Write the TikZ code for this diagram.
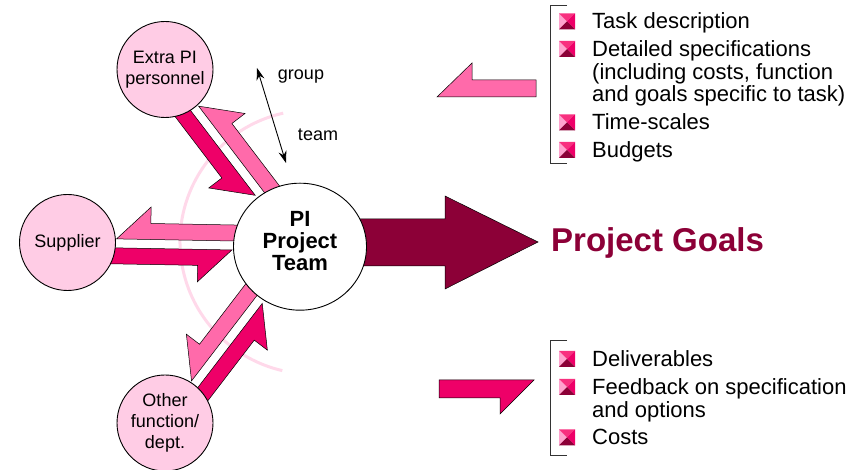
\documentclass[tikz,border=0pt]{standalone}
\usepackage{fontspec}
\setmainfont{Liberation Sans}
\usetikzlibrary{shapes, positioning, calc, backgrounds, arrows.meta}

\definecolor{satpink}{HTML}{FFCCE5}
\definecolor{lightband}{HTML}{FF6AAA}
\definecolor{darkband}{HTML}{EE0068}
\definecolor{maroon}{HTML}{8C0037}
\definecolor{halo}{HTML}{FFD9EA}
\definecolor{bulpale}{HTML}{FFA3CE}
\definecolor{bultop}{HTML}{F8307F}

\tikzset{
  sat/.style={draw, circle, fill=satpink, line width=0.9pt, minimum size=96pt, inner sep=0pt, align=center, font=\fontsize{18}{21}\selectfont},
  band/.style={draw=black, line width=0.5pt, line join=miter},
  lab/.style={inner sep=0pt, font=\fontsize{18}{21}\selectfont},
  item/.style={anchor=north west, inner sep=0pt, align=left, font=\fontsize{22}{22.7}\selectfont},
  sqbul/.pic={
    \fill[bulpale] (-8,-8) -- (0,0) -- (-8,8) -- cycle;
    \fill[bultop] (-8,8) -- (0,0) -- (8,8) -- cycle;
    \fill[darkband] (8,8) -- (0,0) -- (8,-8) -- cycle;
    \fill[maroon] (8,-8) -- (0,0) -- (-8,-8) -- cycle;
  }
}

% two half arrows between a satellite #1 (radius #2) and the team
\newcommand{\twoway}[2]{%
  \path let \p1=($(C)-(#1)$) in \pgfextra{%
    \pgfmathsetmacro\bandang{atan2(\y1,\x1)}%
    \pgfmathsetmacro\banddist{veclen(\x1,\y1)}%
    \global\let\bandang\bandang \global\let\banddist\banddist};
  \begin{scope}[shift={(#1)}, rotate=\bandang]
    \filldraw[band, fill=lightband] ({#2+1.5},4.5) -- ({#2+35.5},37) -- ({#2+35.5},20.5)
      -- ({\banddist-40},20.5) -- ({\banddist-40},4.5) -- cycle;
    \filldraw[band, fill=darkband] ({#2-10},-4.5) -- ({\banddist-68},-4.5) -- ({\banddist-102},-37)
      -- ({\banddist-102},-20.5) -- ({#2-10},-20.5) -- cycle;
  \end{scope}}

\begin{document}
\begin{tikzpicture}[x=1pt, y=1pt]
\useasboundingbox (0,0) rectangle (861,470);

\node[draw, ellipse, fill=white, line width=0.9pt, minimum width=133pt, minimum height=127pt] (C) at (300,223.3) {};
\node[align=center, inner sep=0pt, font=\bfseries\fontsize{22}{22}\selectfont] (Ctxt) at ([yshift=6pt]C.center) {PI\\Project\\Team};

\node[sat] (E) at (165,400.5) {Extra PI\\personnel};
\node[sat] (S) at (67.5,227.5) {Supplier};
\node[sat] (O) at (165,47) {Other\\function/\\dept.};

\coordinate (gtip) at (538,228);
\node[anchor=base west, inner sep=0pt, text=maroon, font=\bfseries\fontsize{33}{36}\selectfont] (goals) at ([xshift=13pt, yshift=-10pt]gtip) {Project Goals};

\begin{scope}[on background layer]
\draw[halo, line width=3pt] ([shift={(12,4.7)}]C.center) ++(102.6:132) arc[start angle=102.6, end angle=257, radius=132];
\twoway{E}{48}
\twoway{S}{47.5}
\twoway{O}{48}
\filldraw[band, fill=maroon] ([yshift=27.7pt]C.center) -- (445,251) -- (445,274) -- (gtip)
  -- (445,181) -- (445,204) -- ([yshift=-19.3pt]C.center) -- cycle;
\end{scope}

% group <-> team
\coordinate (gup) at (257,402);
\coordinate (gdown) at (286,307);
\draw[{Stealth[length=12pt,width=8pt]}-{Stealth[length=12pt,width=8pt]}, line width=0.9pt] (gup) -- (gdown);
\node[lab] (group) at (301,393) {group};
\node[lab] (team) at (318,335) {team};

% what the team gets
\filldraw[band, fill=lightband] (437,373) -- (472,407) -- (472,390) -- (536,390) -- (536,373) -- cycle;
\draw[line width=0.8pt, black!80] (567,465) -- (550,465) -- (550,307) -- (567,307);
\node[item] (task) at (592,457.5) {Task description};
\node[item] (spec) at (592,429.8) {Detailed specifications\\(including costs, function\\and goals specific to task)};
\node[item] (time) at (592,356.5) {Time-scales};
\node[item] (budg) at (592,329) {Budgets};

% what the team gives back
\filldraw[band, fill=darkband] (439,90) -- (534,90) -- (500,56) -- (500,72) -- (439,72) -- cycle;
\draw[line width=0.8pt, black!80] (567,130) -- (550,130) -- (550,15) -- (567,15);
\node[item] (deliv) at (592,120) {Deliverables};
\node[item] (feed) at (592,91.8) {Feedback on specification\\and options};
\node[item] (cost) at (592,41.5) {Costs};

\foreach \k in {task,spec,time,budg,deliv,feed,cost}
  \pic at ([xshift=-25pt, yshift=-8.8pt]\k.north west) {sqbul};

\end{tikzpicture}
\end{document}
